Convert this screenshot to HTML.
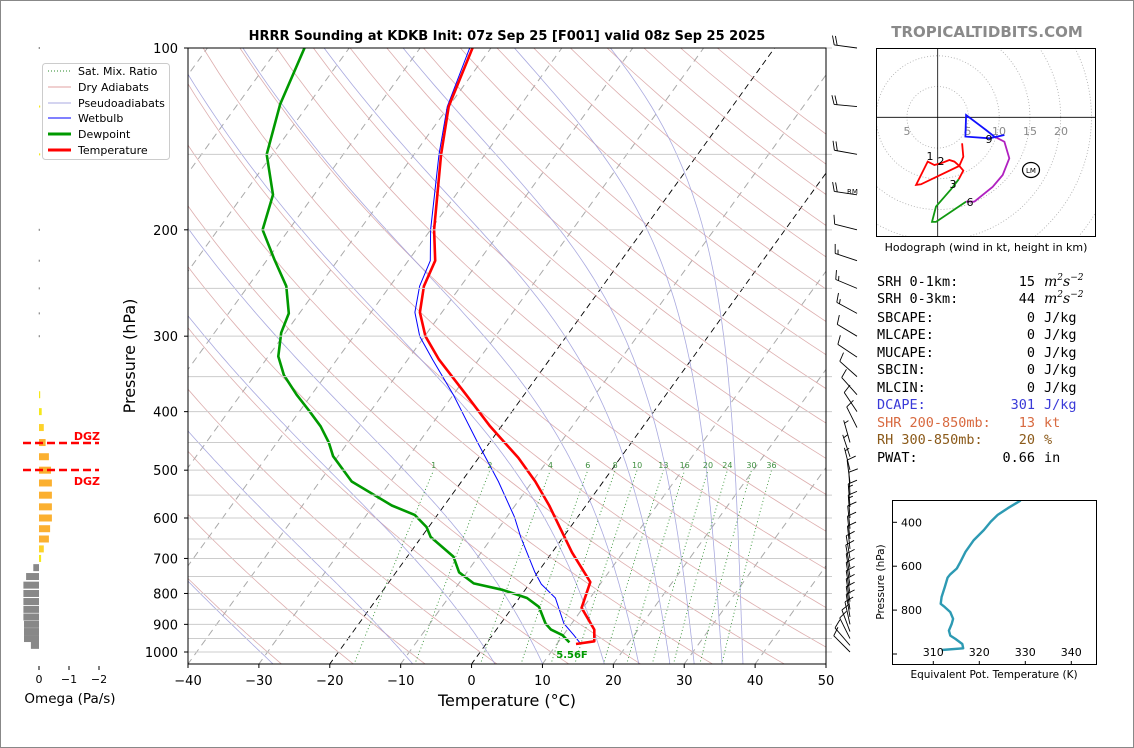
<!DOCTYPE html>
<html><head><meta charset="utf-8"><style>
html,body{margin:0;padding:0;background:#fff;}
svg{display:block;font-family:"DejaVu Sans","Liberation Sans",sans-serif;}
</style></head><body>
<svg id="s" width="1134" height="748" xmlns="http://www.w3.org/2000/svg">
<rect x="0.5" y="0.5" width="1133" height="747" fill="#fff" stroke="#888"/>
<defs>
<clipPath id="cm"><rect x="188" y="48" width="638" height="616"/></clipPath>
<clipPath id="ch"><rect x="876" y="48" width="220" height="189"/></clipPath>
<clipPath id="ct"><rect x="893" y="501" width="204" height="164"/></clipPath>
</defs>
<g id="bg" clip-path="url(#cm)"></g>
<g id="prof" clip-path="url(#cm)"></g>
<g id="ax"></g>
<text x="507" y="40" text-anchor="middle" font-size="13" font-weight="bold">HRRR Sounding at KDKB Init: 07z Sep 25 [F001] valid 08z Sep 25 2025</text>
<text x="507" y="706" text-anchor="middle" font-size="16">Temperature (°C)</text>
<text x="135" y="356" text-anchor="middle" font-size="16" transform="rotate(-90 135 356)">Pressure (hPa)</text>
<text x="987" y="37" text-anchor="middle" font-size="15" font-weight="bold" fill="#8a8a8a">TROPICALTIDBITS.COM</text>
<g>
<rect x="42.5" y="63.5" width="127" height="96" rx="3" fill="#fff" stroke="#ccc"/>
<line x1="48" y1="71" x2="71" y2="71" stroke="#2a8a2a" stroke-dasharray="1,2"/>
<text x="78" y="75" font-size="11">Sat. Mix. Ratio</text>
<line x1="48" y1="87" x2="71" y2="87" stroke="#e0a0a0"/>
<text x="78" y="91" font-size="11">Dry Adiabats</text>
<line x1="48" y1="103" x2="71" y2="103" stroke="#a8a8e0"/>
<text x="78" y="107" font-size="11">Pseudoadiabats</text>
<line x1="48" y1="118" x2="71" y2="118" stroke="#0000ff"/>
<text x="78" y="122" font-size="11">Wetbulb</text>
<line x1="48" y1="134" x2="71" y2="134" stroke="#009900" stroke-width="3"/>
<text x="78" y="138" font-size="11">Dewpoint</text>
<line x1="48" y1="150" x2="71" y2="150" stroke="#ff0000" stroke-width="3"/>
<text x="78" y="154" font-size="11">Temperature</text>
</g>
<g id="om"></g>
<g id="hodo"></g>
<g id="barbs"></g>
<g id="te"></g>
<g font-family="'DejaVu Sans Mono','Liberation Mono',monospace" font-size="13.5">
<text x="877" y="286">SRH 0-1km:</text><text x="1035" y="286" text-anchor="end">15</text>
<text x="877" y="303">SRH 0-3km:</text><text x="1035" y="303" text-anchor="end">44</text>
<text x="877" y="322">SBCAPE:</text><text x="1035" y="322" text-anchor="end">0</text><text x="1044" y="322">J/kg</text>
<text x="877" y="339">MLCAPE:</text><text x="1035" y="339" text-anchor="end">0</text><text x="1044" y="339">J/kg</text>
<text x="877" y="357">MUCAPE:</text><text x="1035" y="357" text-anchor="end">0</text><text x="1044" y="357">J/kg</text>
<text x="877" y="374">SBCIN:</text><text x="1035" y="374" text-anchor="end">0</text><text x="1044" y="374">J/kg</text>
<text x="877" y="392">MLCIN:</text><text x="1035" y="392" text-anchor="end">0</text><text x="1044" y="392">J/kg</text>
<g fill="#3a3ad8"><text x="877" y="409">DCAPE:</text><text x="1035" y="409" text-anchor="end">301</text><text x="1044" y="409">J/kg</text></g>
<g fill="#d86a40"><text x="877" y="427">SHR 200-850mb:</text><text x="1035" y="427" text-anchor="end">13</text><text x="1044" y="427">kt</text></g>
<g fill="#8b5a1a"><text x="877" y="444">RH 300-850mb:</text><text x="1035" y="444" text-anchor="end">20</text><text x="1044" y="444">%</text></g>
<text x="877" y="462">PWAT:</text><text x="1035" y="462" text-anchor="end">0.66</text><text x="1044" y="462">in</text>
</g>
<g font-family="'DejaVu Serif','Liberation Serif',serif" font-style="italic" font-size="14">
<text x="1044" y="286">m<tspan font-size="9" dy="-6">2</tspan><tspan dy="6">s</tspan><tspan font-size="9" dy="-6">−2</tspan></text>
<text x="1044" y="303">m<tspan font-size="9" dy="-6">2</tspan><tspan dy="6">s</tspan><tspan font-size="9" dy="-6">−2</tspan></text>
</g>
<script>
// ---------- data ----------
const tempP=[970,960,918,845,766,684,572,522,477,423,375,328,300,274,248,225,200,150,125,100];
const tempT=[12.7,15.0,13.8,9.8,8.4,2.8,-5.2,-9.6,-14.4,-21.6,-28.2,-35.6,-39.9,-43.1,-45.2,-46.2,-49.5,-56.2,-60.0,-62.6];
const dewP=[964,938,918,897,842,814,789,770,738,695,645,621,593,572,522,474,450,423,398,375,348,324,296,275,248,224,200,175,150,124,100];
const dewT=[11.6,9.9,7.7,6.3,3.7,1.1,-3.2,-7.9,-11.1,-13.5,-18.7,-20.3,-23.2,-27.4,-35.5,-40.7,-42.7,-45.5,-48.8,-52.1,-55.9,-58.6,-60.6,-61.5,-64.6,-69.0,-73.7,-75.8,-80.8,-84.0,-86.3];
const wbP=[967,938,897,814,772,738,645,598,522,450,375,328,300,274,248,225,200,150,125,100];
const wbT=[13.2,11.5,8.9,5.1,1.7,-0.4,-6.0,-8.9,-14.8,-21.7,-30.0,-36.5,-40.7,-43.8,-45.8,-46.9,-50.0,-56.5,-60.2,-63.0];
const xTicks=[-40,-30,-20,-10,0,10,20,30,40,50];
const pTicks=[100,200,300,400,500,600,700,800,900,1000];
const mixVals=[1,2,4,6,8,10,13,16,20,24,30,36];
const moistT0=[-31,-11,1,8,17,22,26.5,30,34,37];
const omegaP=[100,125,150,175,200,225,250,275,300,325,350,375,400,425,450,475,500,525,550,575,600,625,650,675,700,725,750,775,800,825,850,875,900,925,950,975];
const omegaV=[0.01,-0.02,-0.02,0,0.01,0.01,0.01,0.01,0.01,0,0,-0.03,-0.09,-0.16,-0.22,-0.33,-0.40,-0.43,-0.43,-0.43,-0.43,-0.37,-0.33,-0.16,-0.07,0.19,0.43,0.52,0.52,0.52,0.52,0.52,0.50,0.50,0.50,0.27];
const barbP=[100,125,150,175,200,225,250,275,300,325,350,375,400,425,450,475,500,525,550,575,600,625,650,675,700,725,750,775,800,825,850,875,900,925,950,975,1000];
const barbU=[22,22,22,20,12,12,12,11,10,9,9,8,6,4,2,2,1.5,1,0.5,1,1,1,1,1,1.5,1.5,1.5,1.5,1.5,1.5,1.5,1.5,2,3,4,6,7];
const barbV=[-3,-2,-4,-3,-3,-4,-5,-6,-6,-6,-8,-9,-9,-8,-7,-6,-6,-8,-11,-13,-13,-10,-9,-9,-9,-8,-9,-9,-9,-9,-9,-9,-9,-8,-8,-7,-7];
const hodoRedU=[3.96,4.17,3.52,2.71,1.90,0.54,-0.54,-1.63,-3.52,-2.71,3.52,4.17,3.41];
const hodoRedV=[-4.23,-6.40,-7.91,-7.21,-6.94,-7.48,-7.75,-7.21,-11.0,-10.9,-7.91,-8.67,-10.08];
const hodoGreenU=[3.41,2.17,-0.27,-0.92,-0.27,4.61];
const hodoGreenV=[-10.08,-11.7,-14.5,-17.0,-17.0,-13.7];
const hodoPurpleU=[4.61,5.96,8.94,10.57,11.65,10.84,9.21];
const hodoPurpleV=[-13.7,-13.7,-11.3,-9.38,-6.67,-3.96,-3.14];
const hodoBlueU=[10.84,8.40,4.50,4.61,7.86,9.21];
const hodoBlueV=[-2.87,-3.41,-3.14,0.38,-2.06,-3.14];
const thetaK=[329.0,326.2,324.0,322.5,321.0,318.8,317.0,315.9,315.1,313.7,313.1,312.5,311.8,311.6,312.5,313.7,314.3,314.0,313.4,313.7,314.8,316.3,316.5,311.8];
const thetaP=[300.7,335.9,366.4,396.9,435.1,480.9,534.4,580.2,610.7,636.7,651.9,694.7,740.5,771.1,786.3,809.2,839.8,862.7,893.2,916.1,931.4,954.3,974.2,981.8];
const teXTicks=[310,320,330,340];
const teYTicks=[400,600,800,1000];

// ---------- helpers ----------
const NS="http://www.w3.org/2000/svg";
function mk(parent,tag,attrs){const e=document.createElementNS(NS,tag);for(const k in attrs)e.setAttribute(k,attrs[k]);parent.appendChild(e);return e;}
function yP(p){return 48+604*Math.log10(p/100);}
function xT(t,p){return 188+(t+40)*7.089+0.722*(664-yP(p));}
function pts(arr){return arr.map(a=>a[0].toFixed(1)+","+a[1].toFixed(1)).join(" ");}
const bg=document.getElementById('bg'),prof=document.getElementById('prof'),ax=document.getElementById('ax');

for(let p=100;p<=1000;p+=50){
  const l=mk(ax,'line',{x1:188,x2:832,y1:yP(p),y2:yP(p),stroke:'#cccccc','stroke-width':1});
  
  
}
for(let t=-120;t<=50;t+=10){
  const hl=(t===-20||t===0);
  const l=mk(bg,'line',{x1:xT(t,1050),y1:yP(1050),x2:xT(t,100),y2:yP(100),stroke:hl?'#000':'#aaaaaa','stroke-width':hl?0.9:1,'stroke-dasharray':hl?'6,4':'7,5'});
  
  
}
for(let th=-30;th<=200;th+=10){
  const a=[];for(let p=1050;p>=100;p-=10){const T=(th+273.15)*Math.pow(p/1000,0.2857)-273.15;a.push([xT(T,p),yP(p)]);}
  const l=mk(bg,'polyline',{points:pts(a),fill:'none',stroke:'#d49a9a','stroke-width':0.8,'stroke-opacity':0.8});
  
  
}
function dTdp(T,p){const Rd=287.04,Lv=2.501e6,Cp=1005.7,eps=0.622;const es=6.112*Math.exp(17.67*(T-273.15)/(T-29.65));const rs=eps*es/(p-es);return (1/p)*(Rd*T+Lv*rs)/(Cp+Lv*Lv*rs*eps/(Rd*T*T));}
moistT0.forEach(t0=>{
  let T=t0+273.15,p=1000;
  let Td=T,pd=1000;const down=[];
  while(pd<1050){const h=5;const k1=dTdp(Td,pd);const k2=dTdp(Td+k1*h,pd+h);Td+=h*(k1+k2)/2;pd+=h;down.push([xT(Td-273.15,pd),yP(pd)]);}
  const a=down.reverse();a.push([xT(T-273.15,p),yP(p)]);
  while(p>100){const h=-5;const k1=dTdp(T,p);const k2=dTdp(T+k1*h,p+h);T+=h*(k1+k2)/2;p+=h;a.push([xT(T-273.15,p),yP(p)]);}
  const l=mk(bg,'polyline',{points:pts(a),fill:'none',stroke:'#a0a0dc','stroke-width':0.8,'stroke-opacity':0.9});
  
  
});
function tdFromW(w,p){const e=w*p/(622+w);const L=Math.log(e/6.112);return 243.5*L/(17.67-L);}
mixVals.forEach(w=>{
  const a=[];for(let p=1050;p>=500;p-=10)a.push([xT(tdFromW(w,p),p),yP(p)]);
  const l=mk(bg,'polyline',{points:pts(a),fill:'none',stroke:'#2f8f2f','stroke-width':0.9,'stroke-dasharray':'1,2.5'});
  
  
  const t=mk(ax,'text',{x:xT(tdFromW(w,500),500),y:468,'text-anchor':'middle','font-size':8,fill:'#3f8f3f'});
  t.textContent=w;
  
  
});
function prof_line(P,T,color,w,name){
  const a=P.map((p,i)=>[xT(T[i],p),yP(p)]);
  const l=mk(prof,'polyline',{points:pts(a),fill:'none',stroke:color,'stroke-width':w,'stroke-linejoin':'round'});
  
  
}
prof_line(wbP,wbT,'#0000ff',1,'wetbulb-line');
prof_line(dewP,dewT,'#009900',2.6,'dewpoint-line');
prof_line(tempP,tempT,'#ff0000',2.6,'temperature-line');
{const t=mk(ax,'text',{x:572,y:658,'text-anchor':'middle','font-size':10,'font-weight':'bold',fill:'#009900'});t.textContent='5.56F';

}
{const r=mk(ax,'rect',{x:188,y:48,width:638,height:616,fill:'none',stroke:'#000','stroke-width':1});

}
xTicks.forEach(t=>{const x=188+(t+40)*7.089;
  const l=mk(ax,'line',{x1:x,x2:x,y1:664,y2:668,stroke:'#000'});
  
  
  const tx=mk(ax,'text',{x:x,y:685,'text-anchor':'middle','font-size':13});tx.textContent=(t<0?'\u2212':'')+Math.abs(t);
  
  });
pTicks.forEach(p=>{const y=yP(p);
  const l=mk(ax,'line',{x1:184,x2:188,y1:y,y2:y,stroke:'#000'});
  
  
  const tx=mk(ax,'text',{x:178,y:y+5,'text-anchor':'end','font-size':13});tx.textContent=p;
  
  });

// ---------- omega panel ----------
const om=document.getElementById('om');
omegaP.forEach((p,i)=>{const v=omegaV[i];const y=yP(p);const x0=39;const w=Math.abs(v)*30;
  if(w<0.3)return;
  let col='#888888';if(v<0){col=Math.abs(v)<0.12?'#f5e81a':(Math.abs(v)<0.2?'#fdd22a':'#fbb030');}
  const h=p<375?2:7;
  const r=mk(om,'rect',{x:v<0?x0:x0-w,y:y-h/2,width:Math.max(w,1.2),height:h,fill:col});
  
  });
[0,-1,-2].forEach(t=>{const x=39-t*30;
  const l=mk(om,'line',{x1:x,x2:x,y1:666,y2:670,stroke:'#000'});
  
  
  const tx=mk(om,'text',{x:x,y:683,'text-anchor':'middle','font-size':11});tx.textContent=t===0?'0':'\u2212'+Math.abs(t);
  
  });
{const t=mk(om,'text',{x:70,y:703,'text-anchor':'middle','font-size':13.5});t.textContent='Omega (Pa/s)';

}
[[443,440],[470,485]].forEach(d=>{
  const l=mk(om,'line',{x1:23,x2:99,y1:d[0],y2:d[0],stroke:'#ff0000','stroke-width':2.5,'stroke-dasharray':'8,4'});
  
  
  const t=mk(om,'text',{x:100,y:d[1],'text-anchor':'end','font-size':11,'font-weight':'bold',fill:'#ff0000'});t.textContent='DGZ';
  
  });

// ---------- hodograph ----------
const hd=document.getElementById('hodo');const hcx=937.7,hcy=117.3,hs=6.15;
const hg=mk(hd,'g',{'clip-path':'url(#ch)'});
for(let r=5;r<=40;r+=5){const c=mk(hg,'circle',{cx:hcx,cy:hcy,r:r*hs,fill:'none',stroke:'#aaa','stroke-width':0.8,'stroke-dasharray':'1,2'});
  
  }
{const l=mk(hg,'line',{x1:876,x2:1096,y1:hcy,y2:hcy,stroke:'#000','stroke-width':0.8});
const l2=mk(hg,'line',{x1:hcx,x2:hcx,y1:48,y2:237,stroke:'#000','stroke-width':0.8});}
[[907,'5'],[968,'5'],[999,'10'],[1030,'15'],[1061,'20']].forEach(d=>{const t=mk(hg,'text',{x:d[0],y:135,'text-anchor':'middle','font-size':11,fill:'#888'});t.textContent=d[1];
  
  });
function hline(U,V,col,name){const a=U.map((u,i)=>[hcx+u*hs,hcy-V[i]*hs]);const l=mk(hg,'polyline',{points:pts(a),fill:'none',stroke:col,'stroke-width':1.8});
  
  }
hline(hodoRedU,hodoRedV,'#ff0000','hodo-0-3km');
hline(hodoGreenU,hodoGreenV,'#119911','hodo-3-6km');
hline(hodoPurpleU,hodoPurpleV,'#b020c0','hodo-6-9km');
hline(hodoBlueU,hodoBlueV,'#1010ff','hodo-9km-plus');
[[930,160,'1'],[941,165,'2'],[953,188,'3'],[970,206,'6'],[989,143,'9']].forEach(d=>{const t=mk(hg,'text',{x:d[0],y:d[1],'text-anchor':'middle','font-size':11});t.textContent=d[2];
  
  });
{const e=mk(hg,'ellipse',{cx:1031,cy:170,rx:8.5,ry:7.5,fill:'none',stroke:'#000','stroke-width':1.2});
const t=mk(hg,'text',{x:1031,y:173,'text-anchor':'middle','font-size':7});t.textContent='LM';}
{const r=mk(hd,'rect',{x:876.5,y:48.5,width:219,height:188,fill:'none',stroke:'#000'});
const t=mk(hd,'text',{x:986,y:251,'text-anchor':'middle','font-size':11});t.textContent='Hodograph (wind in kt, height in km)';}

// ---------- wind barbs ----------
const bb=document.getElementById('barbs');
barbP.forEach((p,i)=>{const u=barbU[i],v=barbV[i];const bx=p<430?857:850,by=yP(p);
  const sp=Math.hypot(u,v);let dx=-u/sp,dy=v/sp;const L=23;const tx=bx+dx*L,ty=by+dy*L;
  const g=mk(bb,'g',{stroke:'#000','stroke-width':0.9,fill:'none'});
  
  
  mk(g,'line',{x1:bx,y1:by,x2:tx,y2:ty});
  const px=-dy,py=dx;let s=Math.round(sp/5)*5;let pos=0;
  while(s>=10){const sx=tx-dx*pos,sy=ty-dy*pos;mk(g,'line',{x1:sx,y1:sy,x2:sx+px*9+dx*3,y2:sy+py*9+dy*3});pos+=3;s-=10;}
  if(s>=5){if(pos===0)pos=3;const sx=tx-dx*pos,sy=ty-dy*pos;mk(g,'line',{x1:sx,y1:sy,x2:sx+px*4.5+dx*1.5,y2:sy+py*4.5+dy*1.5});}
});
{const t=mk(bb,'text',{x:847,y:194,'font-size':7});t.textContent='RM';}

// ---------- theta-e inset ----------
const te=document.getElementById('te');
function teX(k){return 933.3+(k-310)*4.6;}
function teY(p){return 522.3+(p-400)*0.2195;}
{const g=mk(te,'g',{'clip-path':'url(#ct)'});
const l=mk(g,'polyline',{points:pts(thetaK.map((k,i)=>[teX(k),teY(thetaP[i])])),fill:'none',stroke:'#2d9ab3','stroke-width':2.4,'stroke-linejoin':'round'});

}
{const r=mk(te,'rect',{x:892.5,y:500.5,width:204,height:164,fill:'none',stroke:'#000'});}
teYTicks.forEach(p=>{const y=teY(p);const l=mk(te,'line',{x1:893,x2:897,y1:y,y2:y,stroke:'#000'});
  
  
  if(p<1000){const t=mk(te,'text',{x:922,y:y+4,'text-anchor':'end','font-size':11});t.textContent=p;
  
  }});
teXTicks.forEach(k=>{const x=teX(k);const l=mk(te,'line',{x1:x,x2:x,y1:661,y2:665,stroke:'#000'});
  
  
  const t=mk(te,'text',{x:x,y:656,'text-anchor':'middle','font-size':11});t.textContent=k;
  
  });
{const t=mk(te,'text',{x:994,y:678,'text-anchor':'middle','font-size':10.5});t.textContent='Equivalent Pot. Temperature (K)';
const t2=mk(te,'text',{x:884,y:582,'text-anchor':'middle','font-size':10.5,transform:'rotate(-90 884 582)'});t2.textContent='Pressure (hPa)';}
</script>
</svg>
</body></html>
